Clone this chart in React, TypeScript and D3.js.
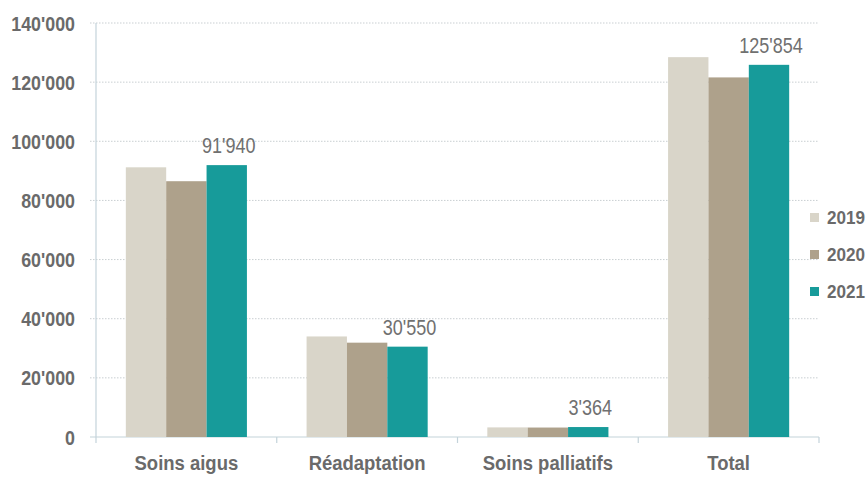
import React from "react";
import * as d3 from "d3";

const categories = ["Soins aigus", "Réadaptation", "Soins palliatifs", "Total"];
const years = ["2019", "2020", "2021"];
const values2019 = [91200, 34000, 3250, 128450];
const values2020 = [86500, 31900, 3200, 121600];
const values2021 = [91940, 30550, 3364, 125854];
const yTicks = [0, 20000, 40000, 60000, 80000, 100000, 120000, 140000];
const colors = ["#d9d5c9", "#aea18b", "#179b9a"];

const W = 868;
const H = 477;
const left = 96;
const right = 819;
const top = 23;
const bottom = 437;

const locale = d3.formatLocale({ decimal: ".", thousands: "'", grouping: [3], currency: ["", ""] });
const fmt = locale.format(",d");

const FONT = "'Liberation Sans', Arial, sans-serif";
const TEXT = "#6a6a6a";

type TxtProps = {
  x: number;
  y: number;
  sx: number;
  anchor: "start" | "middle" | "end";
  size: number;
  bold?: boolean;
  fill: string;
  dy?: string;
  children: React.ReactNode;
};

function Txt({ x, y, sx, anchor, size, bold, fill, dy, children }: TxtProps) {
  return (
    <text
      transform={`translate(${x},${y}) scale(${sx},1)`}
      textAnchor={anchor}
      fontSize={size}
      fontWeight={bold ? "bold" : "normal"}
      fill={fill}
      dy={dy}
    >
      {children}
    </text>
  );
}

export default function App() {
  const series = [values2019, values2020, values2021];
  const y = d3.scaleLinear().domain([0, 140000]).range([bottom, top]);
  const x = d3.scaleBand<string>().domain(categories).range([left, right]).paddingInner(0.33).paddingOuter(0.165);
  const xs = d3.scaleBand<string>().domain(years).range([0, x.bandwidth()]);
  const step = x.step();
  const gap = (step - x.bandwidth()) / 2;
  const boundaries = categories.map((c) => (x(c) as number) - gap).concat([right]);

  return (
    <svg width={W} height={H} style={{ position: "absolute", left: 0, top: 0, background: "#fff" }} fontFamily={FONT}>
      {yTicks.filter((t) => t > 0).map((t) => (
        <line key={"g" + t} x1={90} x2={right} y1={y(t)} y2={y(t)} stroke="#c9cfd2" strokeWidth={1} strokeDasharray="1.5 1.5" />
      ))}
      <line x1={90} x2={right} y1={y(0)} y2={y(0)} stroke="#c4d3da" strokeWidth={1.2} />
      <line x1={left} x2={left} y1={top} y2={bottom} stroke="#c4d3da" strokeWidth={1.2} />
      {boundaries.map((b, i) => (
        <line key={"b" + i} x1={b} x2={b} y1={bottom} y2={bottom + 6} stroke="#c4d3da" strokeWidth={1.2} />
      ))}
      {yTicks.map((t) => (
        <Txt key={"t" + t} x={75} y={y(t)} dy="0.36em" anchor="end" bold size={21} sx={0.85} fill={TEXT}>
          {fmt(t)}
        </Txt>
      ))}
      {categories.map((c, ci) => (
        <g key={c} transform={`translate(${x(c)},0)`}>
          {series.map((s, si) => (
            <rect key={si} x={xs(years[si])} y={y(s[ci])} width={xs.bandwidth()} height={y(0) - y(s[ci])} fill={colors[si]} />
          ))}
          <Txt
            x={(xs(years[2]) as number) + xs.bandwidth() / 2 + 2}
            y={y(values2021[ci]) - 12}
            anchor="middle"
            size={22}
            sx={0.82}
            fill="#707070"
          >
            {fmt(values2021[ci])}
          </Txt>
          <Txt x={x.bandwidth() / 2} y={470} anchor="middle" bold size={21} sx={0.88} fill={TEXT}>
            {c}
          </Txt>
        </g>
      ))}
      {years.map((yr, i) => (
        <g key={yr} transform={`translate(810,${213 + i * 37})`}>
          <rect x={0} y={0} width={9} height={9} fill={colors[i]} />
          <Txt x={17} y={4.5} dy="0.36em" anchor="start" bold size={19} sx={0.9} fill={TEXT}>
            {yr}
          </Txt>
        </g>
      ))}
    </svg>
  );
}
